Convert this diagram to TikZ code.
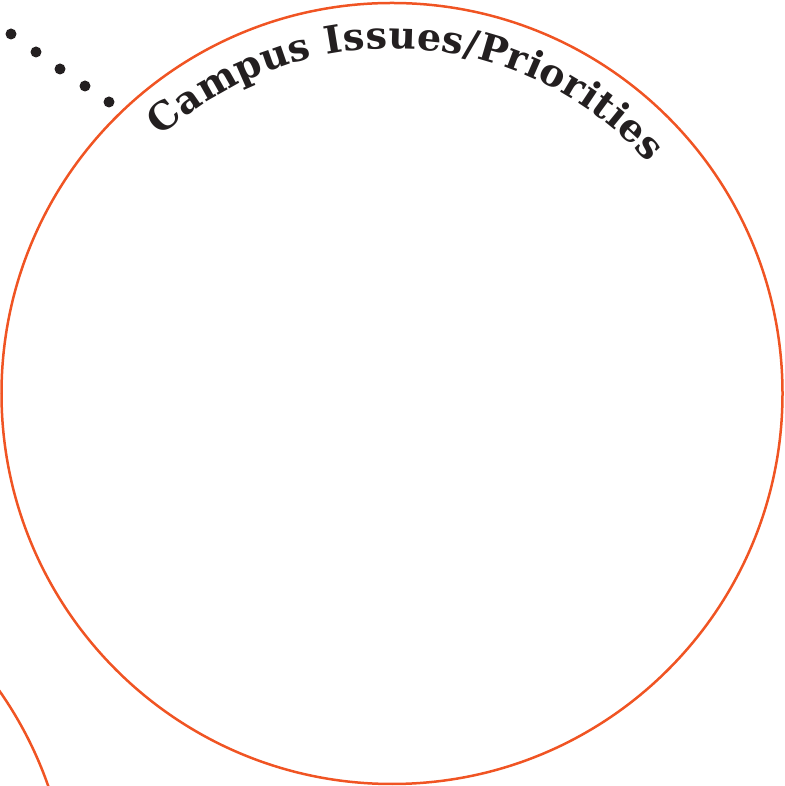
\documentclass[tikz,border=0pt]{standalone}
\usepackage{fontspec}
\setmainfont{DejaVu Serif}
\usetikzlibrary{decorations.text}
\definecolor{ringorange}{RGB}{240,84,35}
\definecolor{inkdark}{RGB}{35,31,32}
\begin{document}
\begin{tikzpicture}[x=1pt,y=1pt,
	ring/.style={draw=ringorange,line width=2.5pt},
	dot/.style={fill=inkdark}]
	\useasboundingbox (0,0) rectangle (784,786);
	% Circles
	\draw [ring] (392,392.5) circle (390.5);
	\draw [ring] (-321,-129) circle (391);
	% Dots
	\foreach \x/\y in {11/752,36/734,60/717,85/700,109/684}
		\fill [dot] (\x,\y) circle (5.5);
	% Title along the ring
	\path [decorate,decoration={text along path,text color=inkdark,
		text align={fit to path},
		text={|\bfseries\fontsize{38}{38}\selectfont|Campus Issues/Priorities}}]
		(392,392.5) ++(132:345) arc (132:42:345);
\end{tikzpicture}
\end{document}
